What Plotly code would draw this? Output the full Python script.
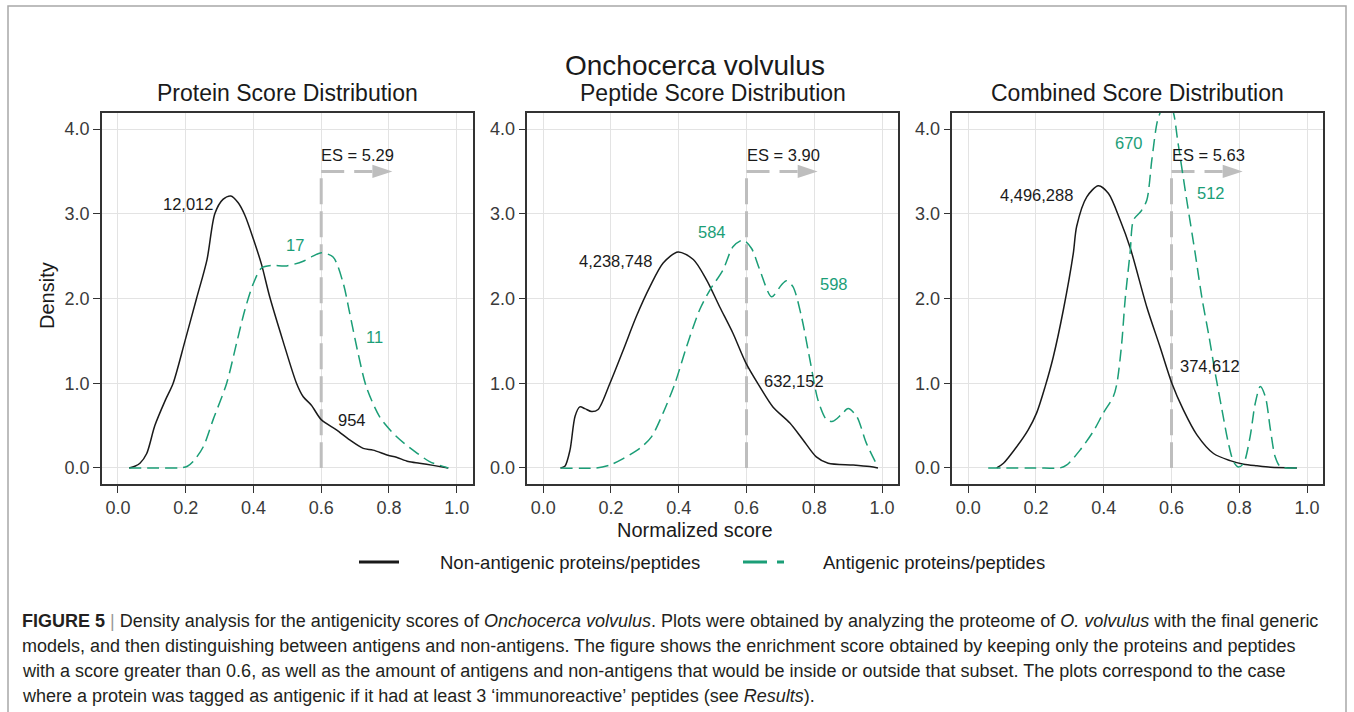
import plotly.graph_objects as go

# ---------------- data ----------------
PANEL_TITLES = ["Protein Score Distribution", "Peptide Score Distribution", "Combined Score Distribution"]
MAIN_TITLE = "Onchocerca volvulus"

# Protein panel
protein_non_x = [0.033, 0.05, 0.065, 0.085, 0.109, 0.14, 0.163, 0.198, 0.232, 0.263, 0.286, 0.31, 0.333,
                 0.355, 0.375, 0.4, 0.424, 0.448, 0.487, 0.527, 0.547, 0.571, 0.6, 0.645, 0.684, 0.724,
                 0.753, 0.797, 0.822, 0.857, 0.89, 0.93, 0.975]
protein_non_y = [0.0, 0.02, 0.055, 0.17, 0.5, 0.8, 1.0, 1.5, 2.0, 2.46, 3.0, 3.17, 3.21,
                 3.13, 2.98, 2.7, 2.4, 2.02, 1.5, 1.0, 0.84, 0.74, 0.57, 0.45, 0.33, 0.23,
                 0.21, 0.15, 0.126, 0.075, 0.055, 0.03, 0.0]
protein_ant_x = [0.033, 0.12, 0.183, 0.205, 0.222, 0.252, 0.281, 0.321, 0.35, 0.375, 0.4, 0.424, 0.453,
                 0.498, 0.547, 0.575, 0.601, 0.635, 0.665, 0.684, 0.709, 0.733, 0.773, 0.822, 0.871,
                 0.92, 0.975]
protein_ant_y = [0.0, 0.0, 0.0, 0.02, 0.075, 0.25, 0.57, 1.0, 1.47, 1.87, 2.18, 2.36, 2.39,
                 2.385, 2.44, 2.5, 2.54, 2.49, 2.18, 1.83, 1.35, 0.96, 0.6, 0.37, 0.21,
                 0.075, 0.0]

# Peptide panel
peptide_non_x = [0.051, 0.064, 0.079, 0.094, 0.108, 0.123, 0.143, 0.162, 0.197, 0.236, 0.275, 0.315,
                 0.354, 0.398, 0.443, 0.482, 0.521, 0.56, 0.598, 0.639, 0.678, 0.728, 0.767, 0.806,
                 0.841, 0.915, 0.964, 0.988]
peptide_non_y = [0.0, 0.02, 0.21, 0.61, 0.72, 0.70, 0.665, 0.69, 1.0, 1.39, 1.79, 2.14,
                 2.42, 2.55, 2.46, 2.22, 1.90, 1.59, 1.24, 0.96, 0.72, 0.53, 0.33, 0.13,
                 0.055, 0.035, 0.016, 0.0]
peptide_ant_x = [0.051, 0.157, 0.197, 0.236, 0.285, 0.32, 0.354, 0.389, 0.423, 0.462, 0.492, 0.531,
                 0.56, 0.59, 0.615, 0.639, 0.674, 0.703, 0.718, 0.737, 0.762, 0.787, 0.811, 0.836,
                 0.855, 0.88, 0.9, 0.925, 0.954, 0.988]
peptide_ant_y = [0.0, 0.0, 0.035, 0.11, 0.23, 0.37, 0.65, 1.0, 1.43, 1.87, 2.10, 2.34,
                 2.61, 2.69, 2.59, 2.34, 2.02, 2.16, 2.21, 2.14, 1.79, 1.28, 0.80, 0.57,
                 0.55, 0.63, 0.70, 0.61, 0.29, 0.01]

# Combined panel
combined_non_x = [0.084, 0.104, 0.143, 0.177, 0.202, 0.227, 0.251, 0.281, 0.31, 0.32, 0.35, 0.384,
                  0.414, 0.448, 0.478, 0.527, 0.566, 0.601, 0.635, 0.675, 0.724, 0.773, 0.813, 0.852,
                  0.892, 0.97]
combined_non_y = [0.0, 0.055, 0.25, 0.45, 0.65, 0.96, 1.31, 1.87, 2.53, 2.85, 3.20, 3.33,
                  3.24, 2.93, 2.6, 1.90, 1.43, 1.0, 0.685, 0.39, 0.17, 0.086, 0.043, 0.024,
                  0.008, 0.0]
combined_ant_x = [0.059, 0.2, 0.271, 0.291, 0.33, 0.369, 0.399, 0.428, 0.439, 0.453, 0.463, 0.478,
                  0.488, 0.51, 0.527, 0.542, 0.557, 0.566, 0.585, 0.606, 0.618, 0.645, 0.67, 0.69,
                  0.709, 0.729, 0.749, 0.768, 0.783, 0.798, 0.813, 0.832, 0.847, 0.862, 0.877, 0.892,
                  0.906, 0.921, 0.97]
combined_ant_y = [0.0, 0.0, 0.0, 0.035, 0.21, 0.43, 0.65, 0.84, 1.0, 1.47, 1.98, 2.55,
                  2.93, 3.03, 3.16, 3.64, 4.07, 4.19, 4.4, 4.19, 3.87, 3.16, 2.53, 2.0,
                  1.59, 1.12, 0.685, 0.29, 0.075, 0.01, 0.055, 0.37, 0.76, 0.96, 0.84, 0.45,
                  0.13, 0.016, 0.0]

ES_VALUES = ["5.29", "3.90", "5.63"]
ES_THRESHOLD = 0.6

# count labels: (text, x, y, group) ; group 0 = non-antigenic, 1 = antigenic
COUNT_LABELS = [
    [("12,012", 0.206, 3.12, 0), ("17", 0.522, 2.63, 1), ("11", 0.756, 1.54, 1), ("954", 0.692, 0.567, 0)],
    [("4,238,748", 0.214, 2.44, 0), ("584", 0.499, 2.78, 1), ("598", 0.859, 2.17, 1), ("632,152", 0.739, 1.03, 0)],
    [("4,496,288", 0.201, 3.22, 0), ("670", 0.474, 3.83, 1), ("512", 0.718, 3.25, 1), ("374,612", 0.715, 1.20, 0)],
]

X_TICKS = [0.0, 0.2, 0.4, 0.6, 0.8, 1.0]
Y_TICKS = [0.0, 1.0, 2.0, 3.0, 4.0]
SERIES_NAMES = ["Non-antigenic proteins/peptides", "Antigenic proteins/peptides"]

CAPTION_LINES = [
    "<b>FIGURE 5</b> <span style='color:#9a9a9a'>|</span> Density analysis for the antigenicity scores of <i>Onchocerca volvulus</i>. Plots were obtained by analyzing the proteome of <i>O. volvulus</i> with the final generic",
    "models, and then distinguishing between antigens and non-antigens. The figure shows the enrichment score obtained by keeping only the proteins and peptides",
    "with a score greater than 0.6, as well as the amount of antigens and non-antigens that would be inside or outside that subset. The plots correspond to the case",
    "where a protein was tagged as antigenic if it had at least 3 \u2018immunoreactive\u2019 peptides (see <i>Results</i>).",
]

# ---------------- styling ----------------
W, H = 1354, 712
FONT = "Liberation Sans, Arial, Helvetica, sans-serif"
BLACK = "#1a1a1a"
GREEN = "#1B9E77"
GRAY = "#BEBEBE"
X_RANGE = [-0.047, 1.048]
Y_RANGE = [-0.19, 4.19]
VLINE_TOP = 3.42
ARROW_Y = 3.5
ARROW_TIP = 0.81
ARROWHEAD_LEN = 0.059
ARROWHEAD_HALF = 0.078
ES_TEXT_Y = 3.69

PLOT_LEFT = [102, 527.3, 952.3]
PLOT_WIDTH = 371
PLOT_TOP, PLOT_BOTTOM = 113, 484


def fx(px):
    return px / W


def fy(py):
    return 1 - py / H


panels = [
    (protein_non_x, protein_non_y, protein_ant_x, protein_ant_y),
    (peptide_non_x, peptide_non_y, peptide_ant_x, peptide_ant_y),
    (combined_non_x, combined_non_y, combined_ant_x, combined_ant_y),
]

fig = go.Figure()
annotations = []
layout_axes = {}

for i, (nx, ny, ax_, ay_) in enumerate(panels):
    suffix = "" if i == 0 else str(i + 1)
    xa, ya = "x" + suffix, "y" + suffix
    # threshold line
    fig.add_trace(go.Scatter(x=[ES_THRESHOLD, ES_THRESHOLD], y=[VLINE_TOP, 0], mode="lines",
                             line=dict(color=GRAY, width=3, dash="26px,7px"),
                             xaxis=xa, yaxis=ya, hoverinfo="skip", showlegend=False))
    # arrow shaft
    fig.add_trace(go.Scatter(x=[ES_THRESHOLD, ARROW_TIP - ARROWHEAD_LEN], y=[ARROW_Y, ARROW_Y], mode="lines",
                             line=dict(color=GRAY, width=3, dash="23px,10px"),
                             xaxis=xa, yaxis=ya, hoverinfo="skip", showlegend=False))
    # arrow head
    fig.add_trace(go.Scatter(x=[ARROW_TIP - ARROWHEAD_LEN, ARROW_TIP, ARROW_TIP - ARROWHEAD_LEN, ARROW_TIP - ARROWHEAD_LEN],
                             y=[ARROW_Y + ARROWHEAD_HALF, ARROW_Y, ARROW_Y - ARROWHEAD_HALF, ARROW_Y + ARROWHEAD_HALF],
                             mode="lines", fill="toself", fillcolor=GRAY, line=dict(width=0, color=GRAY),
                             xaxis=xa, yaxis=ya, hoverinfo="skip", showlegend=False))
    # density curves
    fig.add_trace(go.Scatter(x=nx, y=ny, mode="lines", name=SERIES_NAMES[0],
                             line=dict(color=BLACK, width=1.5, shape="spline", smoothing=0.8),
                             xaxis=xa, yaxis=ya, showlegend=False))
    fig.add_trace(go.Scatter(x=ax_, y=ay_, mode="lines", name=SERIES_NAMES[1],
                             line=dict(color=GREEN, width=1.5, dash="12px,6px", shape="spline", smoothing=0.8),
                             xaxis=xa, yaxis=ya, showlegend=False))

    x0 = PLOT_LEFT[i]
    axis_common = dict(showline=True, mirror=True, linecolor="#333333", linewidth=1.5,
                       showgrid=True, gridcolor="#E3E3E3", gridwidth=1, zeroline=False,
                       ticks="outside", ticklen=7, tickwidth=1.2, tickcolor="#333333",
                       tickfont=dict(family=FONT, size=18, color="#3a3a3a"))
    layout_axes["xaxis" + suffix] = dict(axis_common, domain=[fx(x0), fx(x0 + PLOT_WIDTH)], range=X_RANGE,
                                         tickvals=X_TICKS, ticktext=["%.1f" % v for v in X_TICKS],
                                         anchor=ya)
    layout_axes["yaxis" + suffix] = dict(axis_common, domain=[fy(PLOT_BOTTOM), fy(PLOT_TOP)], range=Y_RANGE,
                                         tickvals=Y_TICKS, ticktext=["%.1f" % v for v in Y_TICKS],
                                         anchor=xa)
    # panel title
    annotations.append(dict(text=PANEL_TITLES[i], x=fx(x0 + PLOT_WIDTH / 2), y=fy(93), xref="paper", yref="paper",
                            showarrow=False, xanchor="center", yanchor="middle",
                            font=dict(family=FONT, size=23, color=BLACK)))
    # ES label
    annotations.append(dict(text="ES = " + ES_VALUES[i], x=ES_THRESHOLD, y=ES_TEXT_Y, xref=xa, yref=ya,
                            showarrow=False, xanchor="left", yanchor="middle", xshift=-2,
                            font=dict(family=FONT, size=16.5, color=BLACK)))
    for (txt, lx, ly, grp) in COUNT_LABELS[i]:
        annotations.append(dict(text=txt, x=lx, y=ly, xref=xa, yref=ya, showarrow=False,
                                xanchor="center", yanchor="middle",
                                font=dict(family=FONT, size=16.5, color=GREEN if grp else BLACK)))

# main title, axis titles
annotations.append(dict(text=MAIN_TITLE, x=fx(695), y=fy(65), xref="paper", yref="paper", showarrow=False,
                        xanchor="center", yanchor="middle", font=dict(family=FONT, size=28, color=BLACK)))
annotations.append(dict(text="Density", x=fx(47), y=fy(296), xref="paper", yref="paper", showarrow=False,
                        textangle=-90, xanchor="center", yanchor="middle",
                        font=dict(family=FONT, size=20, color=BLACK)))
annotations.append(dict(text="Normalized score", x=fx(695), y=fy(530), xref="paper", yref="paper",
                        showarrow=False, xanchor="center", yanchor="middle",
                        font=dict(family=FONT, size=20, color=BLACK)))

# legend (manual)
shapes = []
shapes.append(dict(type="line", xref="paper", yref="paper", x0=fx(359), x1=fx(399), y0=fy(562), y1=fy(562),
                   line=dict(color=BLACK, width=3)))
shapes.append(dict(type="line", xref="paper", yref="paper", x0=fx(743), x1=fx(784), y0=fy(562), y1=fy(562),
                   line=dict(color=GREEN, width=3, dash="24px,10px")))
annotations.append(dict(text=SERIES_NAMES[0], x=fx(438), y=fy(562), xref="paper", yref="paper", showarrow=False,
                        xanchor="left", yanchor="middle", font=dict(family=FONT, size=18.5, color=BLACK)))
annotations.append(dict(text=SERIES_NAMES[1], x=fx(821), y=fy(562), xref="paper", yref="paper", showarrow=False,
                        xanchor="left", yanchor="middle", font=dict(family=FONT, size=18.5, color=BLACK)))

# caption
for k, line in enumerate(CAPTION_LINES):
    annotations.append(dict(text=line, x=fx(20), y=fy(621 + 25 * k), xref="paper", yref="paper", showarrow=False,
                            xanchor="left", yanchor="middle", font=dict(family=FONT, size=18, color="#231F20")))

# outer frame of the figure box
shapes.append(dict(type="rect", xref="paper", yref="paper", x0=fx(8), x1=fx(1346), y0=-0.05, y1=fy(6),
                   line=dict(color="#A8A8A8", width=1.5), fillcolor="rgba(0,0,0,0)", layer="below"))

fig.update_layout(width=W, height=H, margin=dict(l=0, r=0, t=0, b=0),
                  paper_bgcolor="white", plot_bgcolor="white", showlegend=False,
                  annotations=annotations, shapes=shapes, **layout_axes)

fig.write_html("out.html", config={"displayModeBar": False},
               post_script="document.body.style.margin='0px';document.body.style.padding='0px';")
